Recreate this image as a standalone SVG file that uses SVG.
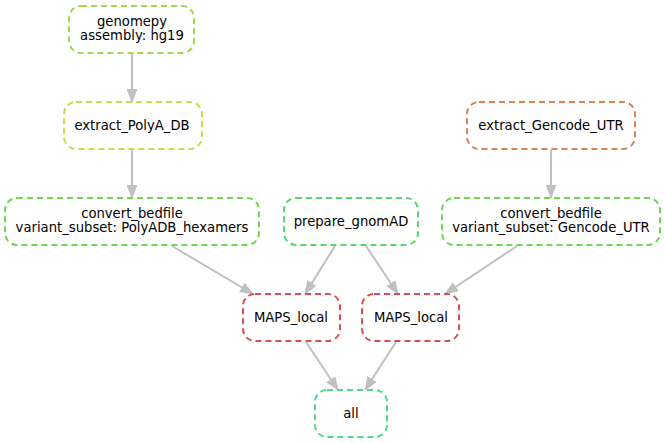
<svg xmlns="http://www.w3.org/2000/svg" width="665" height="443" viewBox="0 0 665 443">
  <style>
    .node rect { fill: #ffffff; stroke-width: 2; stroke-dasharray: 6 4; }
    .node text { font-family: "DejaVu Sans", sans-serif; font-size: 13.2px; fill: #000000; text-anchor: middle; }
    .edge { stroke: #c0c0c0; stroke-width: 2; fill: none; marker-end: url(#arrow); }
  </style>
  <defs>
    <marker id="arrow" viewBox="0 0 14 11" refX="13" refY="5.5" markerWidth="14" markerHeight="11" markerUnits="userSpaceOnUse" orient="auto">
      <path d="M0,0 L14,5.5 L0,11 z" fill="#c0c0c0"/>
    </marker>
  </defs>

  <g id="edges">
    <line class="edge" x1="132" y1="54" x2="132" y2="102"/>
    <line class="edge" x1="132" y1="150" x2="132" y2="198"/>
    <line class="edge" x1="551" y1="150" x2="551" y2="198"/>
    <line class="edge" x1="172" y1="246" x2="253" y2="294"/>
    <line class="edge" x1="335" y1="246" x2="305" y2="294"/>
    <line class="edge" x1="366" y1="246" x2="398" y2="294"/>
    <line class="edge" x1="517" y1="246" x2="445" y2="294"/>
    <line class="edge" x1="306" y1="342" x2="338" y2="390"/>
    <line class="edge" x1="396" y1="342" x2="365" y2="390"/>
  </g>

  <g id="genomepy" class="node">
    <rect x="69" y="6" width="125" height="47" rx="12" stroke="#a0d94f"/>
    <text x="132" y="26">genomepy</text>
    <text x="132" y="40">assembly: hg19</text>
  </g>
  <g id="extract_PolyA_DB" class="node">
    <rect x="64" y="102" width="138" height="47" rx="12" stroke="#cfd84f"/>
    <text x="132" y="130">extract_PolyA_DB</text>
  </g>
  <g id="extract_Gencode_UTR" class="node">
    <rect x="467" y="102" width="168" height="47" rx="12" stroke="#d8854f"/>
    <text x="551" y="130">extract_Gencode_UTR</text>
  </g>
  <g id="convert_bedfile_polyadb" class="node">
    <rect x="5" y="198" width="254" height="47" rx="12" stroke="#6bd84f"/>
    <text x="132" y="218">convert_bedfile</text>
    <text x="132" y="232">variant_subset: PolyADB_hexamers</text>
  </g>
  <g id="prepare_gnomAD" class="node">
    <rect x="284" y="198" width="134" height="47" rx="12" stroke="#55d86a"/>
    <text x="351" y="226">prepare_gnomAD</text>
  </g>
  <g id="convert_bedfile_gencode" class="node">
    <rect x="442" y="198" width="218" height="47" rx="12" stroke="#6bd84f"/>
    <text x="551" y="218">convert_bedfile</text>
    <text x="551" y="232">variant_subset: Gencode_UTR</text>
  </g>
  <g id="MAPS_local_1" class="node">
    <rect x="243" y="294" width="97" height="47" rx="12" stroke="#d84f4f"/>
    <text x="291" y="322">MAPS_local</text>
  </g>
  <g id="MAPS_local_2" class="node">
    <rect x="362" y="294" width="97" height="47" rx="12" stroke="#d84f4f"/>
    <text x="411" y="322">MAPS_local</text>
  </g>
  <g id="all" class="node">
    <rect x="315" y="390" width="72" height="47" rx="12" stroke="#4fd88f"/>
    <text x="351" y="418">all</text>
  </g>
</svg>
